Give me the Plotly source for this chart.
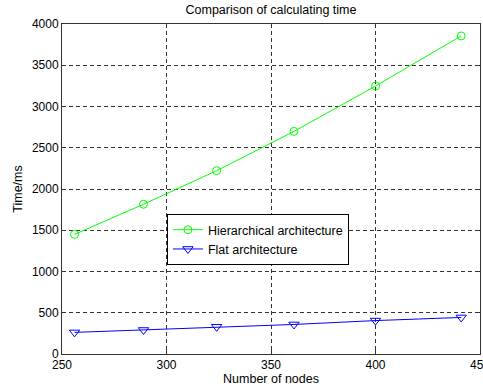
import plotly.graph_objects as go

nodes = [256, 289, 324, 361, 400, 441]
hierarchical = [1450, 1815, 2222, 2698, 3248, 3855]
flat = [262, 291, 330, 358, 405, 443]

FONT = "Liberation Sans, Arial, sans-serif"

fig = go.Figure()
fig.add_trace(go.Scatter(
    x=nodes, y=hierarchical, mode="lines+markers", name="Hierarchical architecture",
    line=dict(color="#00ff00", width=1),
    marker=dict(symbol="circle-open", size=8, color="#00ff00", line=dict(width=1)),
))
fig.add_trace(go.Scatter(
    x=nodes, y=flat, mode="lines+markers", name="Flat architecture",
    line=dict(color="#0000ff", width=1),
    marker=dict(symbol="triangle-down-open", size=9, color="#0000ff", line=dict(width=1)),
))

axis_common = dict(
    showline=True, linecolor="#333333", linewidth=1, mirror="ticks",
    ticks="inside", ticklen=4, tickcolor="#333333",
    showgrid=True, gridcolor="#333333", griddash="4px,3px", gridwidth=1,
    zeroline=False, tickfont=dict(family=FONT, size=12, color="black"),
    automargin=False, ticklabeloverflow="allow",
)

fig.update_layout(
    width=483, height=390,
    margin=dict(l=62, r=3, t=24, b=36),
    paper_bgcolor="white", plot_bgcolor="white",
    font=dict(family=FONT, size=12.5, color="black"),
    title=dict(text="Comparison of calculating time", x=0.5, xanchor="center",
               xref="paper", y=0.975, yanchor="middle", font=dict(size=12.5)),
    xaxis=dict(range=[250, 450], dtick=50, tick0=250,
               title=dict(text="Number of nodes", standoff=2, font=dict(size=12.5)),
               **axis_common),
    yaxis=dict(range=[0, 4000], dtick=500, tick0=0,
               title=dict(text="Time/ms", standoff=6, font=dict(size=12.5)),
               **axis_common),
    legend=dict(x=0.251, y=0.424, xanchor="left", yanchor="top",
                bordercolor="black", borderwidth=1, bgcolor="white",
                font=dict(size=12.5), tracegroupgap=0),
    showlegend=True,
)

fig.write_html("out.html", config={"displayModeBar": False},
               post_script="document.body.style.margin='0';")
